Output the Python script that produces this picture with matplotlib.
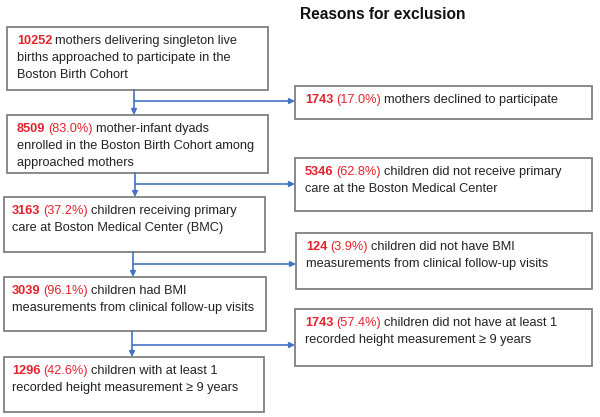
import matplotlib.pyplot as plt
from matplotlib.patches import Rectangle

# flow boxes (left column)
main_counts = ['10252', '8509', '3163', '3039', '1296']
main_pcts = ['', '(83.0%)', '(37.2%)', '(96.1%)', '(42.6%)']
main_texts = [
    ['mothers delivering singleton live', 'births approached to participate in the', 'Boston Birth Cohort'],
    ['mother-infant dyads', 'enrolled in the Boston Birth Cohort among', 'approached mothers'],
    ['children receiving primary', 'care at Boston Medical Center (BMC)'],
    ['children had BMI', 'measurements from clinical follow-up visits'],
    ['children with at least 1', 'recorded height measurement \u2265 9 years'],
]

# exclusion boxes (right column)
excl_counts = ['1743', '5346', '124', '1743']
excl_pcts = ['(17.0%)', '(62.8%)', '(3.9%)', '(57.4%)']
excl_texts = [
    ['mothers declined to participate'],
    ['children did not receive primary', 'care at the Boston Medical Center'],
    ['children did not have BMI', 'measurements from clinical follow-up visits'],
    ['children did not have at least 1', 'recorded height measurement \u2265 9 years'],
]

# layout in pixels (x0, x1, y0, y1)
main_boxes = [(7, 268, 27, 90), (7, 268, 115, 173), (4, 265, 197, 252),
              (4, 266, 277, 331), (4, 264, 357, 412)]
excl_boxes = [(295, 592, 86, 119), (295, 592, 158, 211),
              (296, 592, 233, 289), (295, 592, 309, 366)]
arrow_x = [134, 135, 133, 132]
branch_y = [101, 184, 264, 345]

RED = '#e3232b'
TXT = '#222222'
BLUE = '#4472c4'
EDGE = '#808080'
FS = 9.2

plt.rcParams['font.family'] = ['Liberation Sans', 'DejaVu Sans']

fig = plt.figure(figsize=[6, 4.17], dpi=100)
ax = fig.add_axes([0, 0, 1, 1])
ax.set_xlim(0, 600)
ax.set_ylim(417, 0)
ax.axis('off')
r = fig.canvas.get_renderer()


def width(t):
    bb = t.get_window_extent(r)
    return bb.width


probe1 = ax.text(0, 0, 'x x', fontsize=FS)
probe2 = ax.text(0, 0, 'xx', fontsize=FS)
space = (width(probe1) - width(probe2)) * 0.85
probe1.remove()
probe2.remove()


def draw_box(box, count, pct, lines, pad):
    x0, x1, y0, y1 = box
    ax.add_patch(Rectangle((x0, y0), x1 - x0, y1 - y0, fill=False,
                           edgecolor=EDGE, linewidth=1.3))
    x = x0 + pad
    y = y0 + 14.2
    t = ax.text(x, y, count, color=RED, fontsize=FS, fontweight='bold', va='center')
    x += width(t) + space
    if pct:
        t = ax.text(x, y, pct, color=RED, fontsize=FS, va='center')
        x += width(t) + space
    ax.text(x, y, lines[0], color=TXT, fontsize=FS, va='center')
    for i, ln in enumerate(lines[1:]):
        ax.text(x0 + pad, y + 16.8 * (i + 1), ln, color=TXT, fontsize=FS, va='center')


for b, c, p, l in zip(main_boxes, main_counts, main_pcts, main_texts):
    draw_box(b, c, p, l, 10 if b[0] > 5 else 8)
for b, c, p, l in zip(excl_boxes, excl_counts, excl_pcts, excl_texts):
    draw_box(b, c, p, l, 10)

ax.text(383, 14, 'Reasons for exclusion', fontsize=11.2, fontweight='bold',
        color='#111111', ha='center', va='center')

# arrows
for i in range(4):
    ax_ = arrow_x[i]
    ytop = main_boxes[i][3]
    ybot = main_boxes[i + 1][2]
    ax.annotate('', xy=(ax_, ybot), xytext=(ax_, ytop),
                arrowprops=dict(arrowstyle='-|>', color=BLUE, lw=1.2,
                                mutation_scale=8, shrinkA=0, shrinkB=0))
    ax.annotate('', xy=(excl_boxes[i][0], branch_y[i]), xytext=(ax_, branch_y[i]),
                arrowprops=dict(arrowstyle='-|>', color=BLUE, lw=1.2,
                                mutation_scale=8, shrinkA=0, shrinkB=0))

fig.savefig('out.png', dpi=100)
